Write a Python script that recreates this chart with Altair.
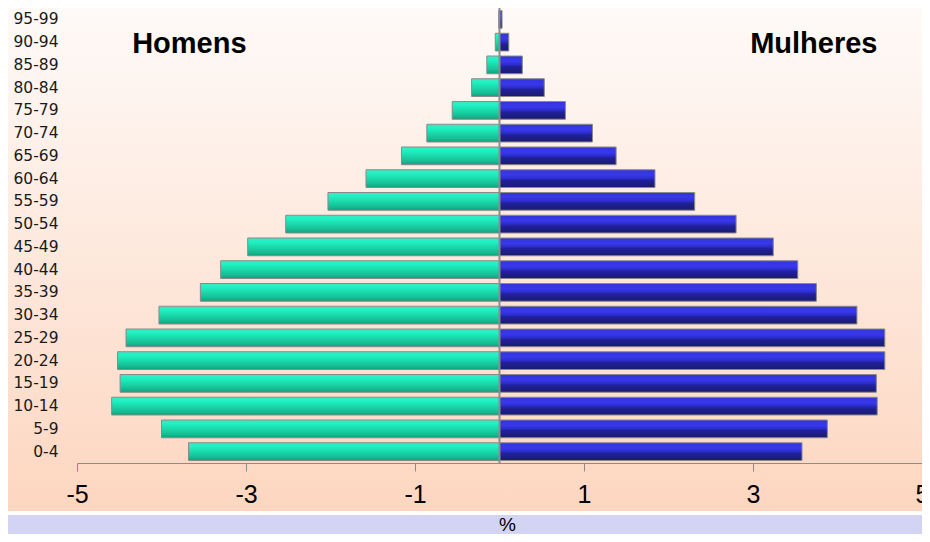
import altair as alt
import pandas as pd

ages = ["0-4", "5-9", "10-14", "15-19", "20-24", "25-29", "30-34", "35-39",
        "40-44", "45-49", "50-54", "55-59", "60-64", "65-69", "70-74",
        "75-79", "80-84", "85-89", "90-94", "95-99"]
homens = [-3.68, -4.00, -4.59, -4.49, -4.52, -4.42, -4.03, -3.54, -3.30, -2.98,
          -2.53, -2.03, -1.58, -1.16, -0.86, -0.56, -0.33, -0.15, -0.05, -0.01]
mulheres = [3.58, 3.88, 4.47, 4.46, 4.56, 4.56, 4.23, 3.75, 3.53, 3.24,
            2.80, 2.31, 1.84, 1.38, 1.10, 0.78, 0.53, 0.27, 0.11, 0.03]
x_ticks = [-5, -3, -1, 1, 3, 5]
labels = [{"txt": "Homens", "x": -3.67}, {"txt": "Mulheres", "x": 3.72}]

W, H = 845, 455
PL, PT, PR, PB = 69, 0, 0, 71

df_h = pd.DataFrame({"idade": ages, "valor": homens})
df_m = pd.DataFrame({"idade": ages, "valor": mulheres})
df_one = pd.DataFrame({"a": [0]})
df_lab = pd.DataFrame(labels)

order = list(reversed(ages))

x_enc = alt.X("valor:Q",
              scale=alt.Scale(domain=[-5, 5], nice=False),
              axis=alt.Axis(values=x_ticks, title="%", grid=False,
                            labelExpr="'' + datum.value",
                            labelFontSize=25, labelFont="Liberation Sans",
                            labelColor="#000", domainColor="#8c8c8c",
                            tickColor="#8c8c8c", tickSize=8, labelPadding=11,
                            labelFlush=False,
                            titleFontSize=19, titleFont="Liberation Sans",
                            titleFontWeight="normal", titleColor="#000",
                            titleX=430, titleY=61, titleBaseline="middle",
                            titleAnchor="middle", zindex=1))
y_enc = alt.Y("idade:N", sort=order,
              scale=alt.Scale(paddingInner=0.22, paddingOuter=0.11),
              axis=alt.Axis(title=None, domain=False, ticks=False,
                            labelFont="DejaVu Sans", labelFontSize=15.5,
                            labelColor="#1a1a1a", labelPadding=19, zindex=1))

bg = alt.Chart(df_one).mark_rect(
    color=alt.Gradient(gradient="linear", x1=0, x2=0, y1=0, y2=1,
                       stops=[alt.GradientStop(offset=0, color="#fefaf8"),
                              alt.GradientStop(offset=1, color="#fdd6c0")])
).encode(x=alt.value(-PL), x2=alt.value(W + PR), y=alt.value(0), y2=alt.value(503))

band = alt.Chart(df_one).mark_rect(color="#d3d3f3").encode(
    x=alt.value(-PL), x2=alt.value(W + PR), y=alt.value(507), y2=alt.value(H + PB))

green = alt.Gradient(gradient="linear", x1=0, x2=0, y1=0, y2=1,
                     stops=[alt.GradientStop(offset=0, color="#3fe8c0"),
                            alt.GradientStop(offset=0.2, color="#1ff2c4"),
                            alt.GradientStop(offset=0.5, color="#1bd9aa"),
                            alt.GradientStop(offset=0.8, color="#16bd93"),
                            alt.GradientStop(offset=1, color="#10a07e")])
blue = alt.Gradient(gradient="linear", x1=0, x2=0, y1=0, y2=1,
                    stops=[alt.GradientStop(offset=0, color="#3434d8"),
                           alt.GradientStop(offset=0.3, color="#3838ee"),
                           alt.GradientStop(offset=0.5, color="#2c2cc8"),
                           alt.GradientStop(offset=0.6, color="#21219a"),
                           alt.GradientStop(offset=1, color="#1a1a70")])

bars_h = alt.Chart(df_h).mark_bar(color=green, stroke="#8a8a8a", strokeWidth=1).encode(
    x=x_enc, y=y_enc)
bars_m = alt.Chart(df_m).mark_bar(color=blue, stroke="#8a8a8a", strokeWidth=1).encode(
    x=x_enc, y=y_enc)

rule = alt.Chart(df_one).mark_rule(color="#8c8c8c", strokeWidth=2).encode(
    x=alt.datum(0))

txt = alt.Chart(df_lab).mark_text(
    font="Liberation Sans", fontSize=29, fontWeight="bold", color="#000",
    align="center", baseline="alphabetic"
).encode(x=alt.X("x:Q"), y=alt.value(44.5), text="txt:N")

chart = alt.layer(bg, band, bars_h, bars_m, rule, txt).properties(
    width=W, height=H,
    autosize=alt.AutoSizeParams(type="none"),
    padding={"left": PL, "top": PT, "right": PR, "bottom": PB},
    background="white"
).configure_view(strokeWidth=0)

chart.save("out.html", embed_options={"renderer": "svg", "actions": False})
